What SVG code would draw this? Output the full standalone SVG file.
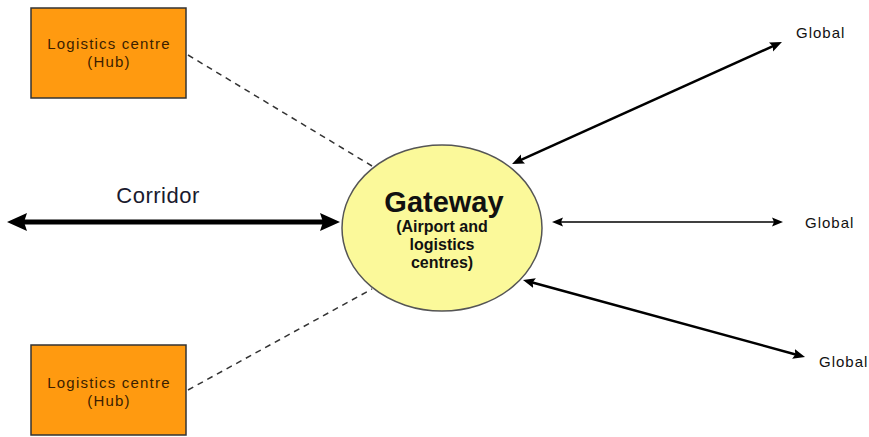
<svg xmlns="http://www.w3.org/2000/svg" width="869" height="437" viewBox="0 0 869 437">
<style>
.hub{fill:#ff9a10;stroke:#333;stroke-width:1.5}
.hubt{font-family:"Liberation Sans",Arial,sans-serif;font-size:15px;fill:#3b1e00;text-anchor:middle;letter-spacing:1.2px}
.gw{fill:#fbf99a;stroke:#555;stroke-width:1.5}
.gwt{font-family:"Liberation Sans",Arial,sans-serif;font-weight:bold;fill:#111;text-anchor:middle}
.glob{font-family:"Liberation Sans",Arial,sans-serif;font-size:15px;fill:#111;letter-spacing:1px}
.dash{stroke:#333;stroke-width:1.5;stroke-dasharray:6 5;fill:none}
.arr{stroke:#000;fill:none}
</style>
<defs>
<marker id="mBig" markerUnits="userSpaceOnUse" viewBox="0 -10 22 20" refX="12" refY="0" markerWidth="22" markerHeight="20" orient="auto-start-reverse">
<path d="M0,-9 L20,0 L0,9 L3,0 z" fill="#000"/>
</marker>
<marker id="mMid" markerUnits="userSpaceOnUse" viewBox="0 -6 14 12" refX="7" refY="0" markerWidth="14" markerHeight="12" orient="auto-start-reverse">
<path d="M0,-5 L12,0 L0,5 L2,0 z" fill="#000"/>
</marker>
<marker id="mThin" markerUnits="userSpaceOnUse" viewBox="0 -6 13 12" refX="6" refY="0" markerWidth="13" markerHeight="12" orient="auto-start-reverse">
<path d="M0,-4.5 L11,0 L0,4.5 L2,0 z" fill="#000"/>
</marker>
</defs>
<g id="connectors">
<line class="dash" x1="188" y1="55" x2="372" y2="166"/>
<line class="dash" x1="188" y1="390" x2="372" y2="289"/>
<line class="arr" x1="15" y1="222" x2="332" y2="222" stroke-width="5" marker-start="url(#mBig)" marker-end="url(#mBig)"/>
<line class="arr" x1="516.6" y1="161.9" x2="777.4" y2="44.1" stroke-width="2.5" marker-start="url(#mMid)" marker-end="url(#mMid)"/>
<line class="arr" x1="557" y1="222" x2="778" y2="222" stroke-width="1.5" marker-start="url(#mThin)" marker-end="url(#mThin)"/>
<line class="arr" x1="527.8" y1="281.3" x2="800.2" y2="355.7" stroke-width="2.5" marker-start="url(#mMid)" marker-end="url(#mMid)"/>
</g>
<g id="hub-top">
<rect class="hub" x="31" y="8" width="155" height="90"/>
<text class="hubt" x="109" y="49">Logistics centre</text>
<text class="hubt" x="109" y="67">(Hub)</text>
</g>
<g id="hub-bottom">
<rect class="hub" x="31" y="345" width="155" height="90"/>
<text class="hubt" x="109" y="388">Logistics centre</text>
<text class="hubt" x="109" y="406">(Hub)</text>
</g>
<g id="gateway">
<ellipse class="gw" cx="442" cy="228" rx="100" ry="83"/>
<text class="gwt" x="444" y="212" font-size="29">Gateway</text>
<text class="gwt" x="442" y="232" font-size="16">(Airport and</text>
<text class="gwt" x="442" y="250" font-size="16">logistics</text>
<text class="gwt" x="442" y="268" font-size="16">centres)</text>
</g>
<g id="corridor-label">
<text x="158" y="203" font-family="Liberation Sans, Arial, sans-serif" font-size="22" fill="#1a1a2e" text-anchor="middle" letter-spacing="0.5">Corridor</text>
</g>
<g id="global-top"><text class="glob" x="796" y="38">Global</text></g>
<g id="global-mid"><text class="glob" x="805" y="228">Global</text></g>
<g id="global-bottom"><text class="glob" x="819" y="367">Global</text></g>
</svg>
